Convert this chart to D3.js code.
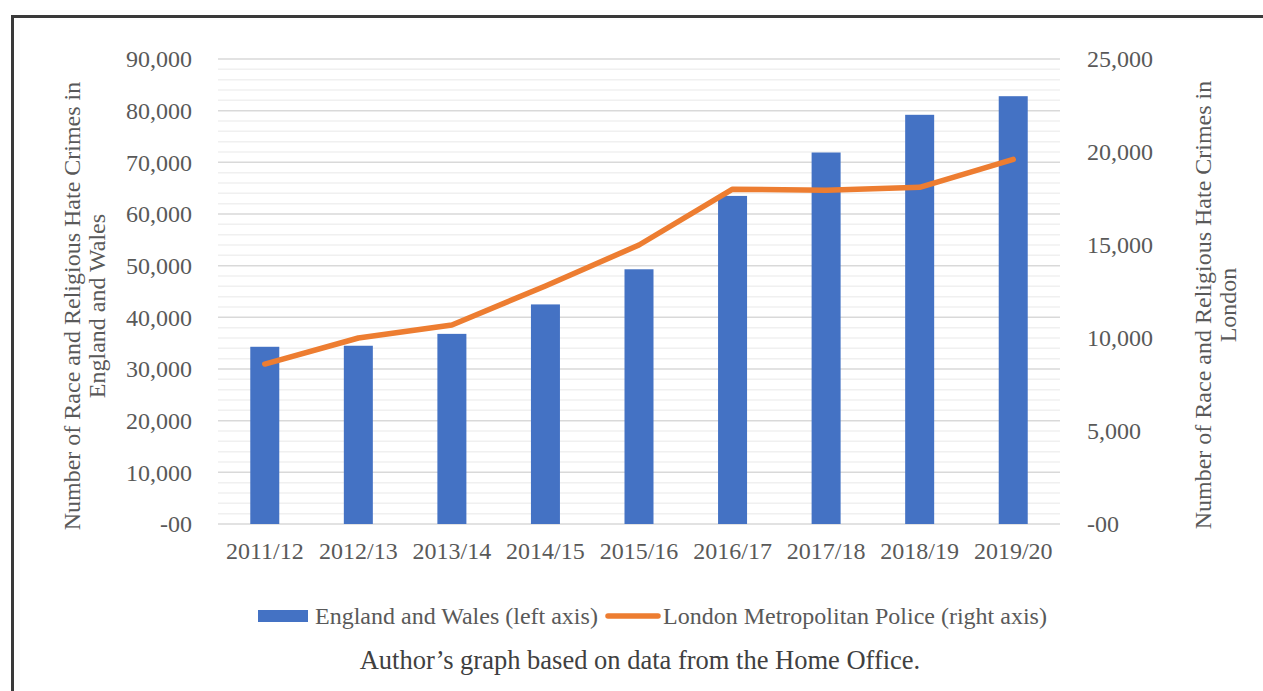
<!DOCTYPE html>
<html lang="en">
<head>
  <meta charset="UTF-8" />
  <title>Race and Religious Hate Crimes</title>
  <script src="https://d3js.org/d3.v7.min.js"></script>
  <style>
    body {
      margin: 0;
      padding: 0;
      background: #fff;
    }
    svg text {
      font-family: "Liberation Serif", "Times New Roman", serif;
    }
  </style>
</head>
<body>
  <div id="chart"></div>

  <script>
    // data
    const years = ["2011/12", "2012/13", "2013/14", "2014/15", "2015/16",
                   "2016/17", "2017/18", "2018/19", "2019/20"];
    const englandWales = [34300, 34500, 36800, 42500, 49300, 63500, 71900, 79200, 82800];
    const londonMet = [8600, 10000, 10700, 12800, 15000, 18000, 17950, 18100, 19600];
    const leftTicks = [0, 10000, 20000, 30000, 40000, 50000, 60000, 70000, 80000, 90000];
    const rightTicks = [0, 5000, 10000, 15000, 20000, 25000];

    const width = 1263;
    const height = 691;
    const margin = { top: 59, right: 203, bottom: 167, left: 218 };
    const plotW = width - margin.left - margin.right;
    const plotH = height - margin.top - margin.bottom;

    const blue = "#4472c4";
    const orange = "#ed7d31";
    const labelColor = "#595959";
    const fontSize = "24px";

    const svg = d3.select("#chart")
      .append("svg")
      .attr("width", width)
      .attr("height", height);

    // frame (top and left edges only)
    svg.append("path")
      .attr("d", `M12.5,${height} V16.5 H${width}`)
      .attr("fill", "none")
      .attr("stroke", "#3a3a3a")
      .attr("stroke-width", 3);

    const g = svg.append("g")
      .attr("transform", `translate(${margin.left},${margin.top})`);

    const x = d3.scaleBand()
      .domain(years)
      .range([0, plotW])
      .paddingInner(0.69)
      .paddingOuter(0.345);

    const xPoint = d => x(d) + x.bandwidth() / 2;

    const yLeft = d3.scaleLinear().domain([0, 90000]).range([plotH, 0]);
    const yRight = d3.scaleLinear().domain([0, 25000]).range([plotH, 0]);

    const fmt = d => d === 0 ? "-00" : d3.format(",")(d);

    // minor gridlines every 2,000
    g.append("g")
      .selectAll("line")
      .data(d3.range(0, 90001, 2000).filter(v => v % 10000 !== 0))
      .join("line")
      .attr("x1", 0)
      .attr("x2", plotW)
      .attr("y1", d => yLeft(d))
      .attr("y2", d => yLeft(d))
      .attr("stroke", "#f0f0f0")
      .attr("stroke-width", 1.5);

    // major gridlines
    g.append("g")
      .selectAll("line")
      .data(leftTicks)
      .join("line")
      .attr("x1", 0)
      .attr("x2", plotW)
      .attr("y1", d => yLeft(d))
      .attr("y2", d => yLeft(d))
      .attr("stroke", "#d9d9d9")
      .attr("stroke-width", 1.5);

    // bars
    g.append("g")
      .selectAll("rect")
      .data(englandWales)
      .join("rect")
      .attr("x", (d, i) => x(years[i]))
      .attr("y", d => yLeft(d))
      .attr("width", x.bandwidth())
      .attr("height", d => plotH - yLeft(d))
      .attr("fill", blue);

    // line
    const line = d3.line()
      .x((d, i) => xPoint(years[i]))
      .y(d => yRight(d));

    g.append("path")
      .datum(londonMet)
      .attr("d", line)
      .attr("fill", "none")
      .attr("stroke", orange)
      .attr("stroke-width", 5.5)
      .attr("stroke-linecap", "round")
      .attr("stroke-linejoin", "round");

    // left axis
    const leftAxis = g.append("g")
      .call(d3.axisLeft(yLeft).tickValues(leftTicks).tickFormat(fmt).tickSize(0).tickPadding(26));
    leftAxis.select(".domain").remove();

    // right axis
    const rightAxis = g.append("g")
      .attr("transform", `translate(${plotW},0)`)
      .call(d3.axisRight(yRight).tickValues(rightTicks).tickFormat(fmt).tickSize(0).tickPadding(27));
    rightAxis.select(".domain").remove();

    // x axis
    const xAxis = g.append("g")
      .attr("transform", `translate(0,${plotH})`)
      .call(d3.axisBottom(x).tickSize(0).tickPadding(18));
    xAxis.select(".domain").remove();

    g.selectAll(".tick text")
      .attr("fill", labelColor)
      .style("font-size", fontSize)
      .style("font-family", "'Liberation Serif', 'Times New Roman', serif");

    // axis titles
    function rotatedTitle(cx, cy, lines, angle) {
      const t = svg.append("text")
        .attr("transform", `translate(${cx},${cy}) rotate(${angle})`)
        .attr("text-anchor", "middle")
        .attr("fill", labelColor)
        .style("font-size", fontSize);
      lines.forEach((s, i) => {
        t.append("tspan")
          .attr("x", 0)
          .attr("dy", i === 0 ? 0 : 25)
          .text(s);
      });
    }

    rotatedTitle(80, 306, ["Number of Race and Religious Hate Crimes in", "England and Wales"], -90);
    rotatedTitle(1211, 305, ["Number of Race and Religious Hate Crimes in", "London"], -90);

    // legend
    const legend = svg.append("g").attr("transform", "translate(0,616)");
    legend.append("rect")
      .attr("x", 258).attr("y", -6)
      .attr("width", 50).attr("height", 12)
      .attr("fill", blue);
    legend.append("text")
      .attr("x", 315).attr("y", 0).attr("dy", "0.35em")
      .attr("fill", labelColor)
      .style("font-size", fontSize)
      .text("England and Wales (left axis)");
    legend.append("line")
      .attr("x1", 608).attr("x2", 658)
      .attr("y1", 0).attr("y2", 0)
      .attr("stroke", orange)
      .attr("stroke-width", 5.5)
      .attr("stroke-linecap", "round");
    legend.append("text")
      .attr("x", 663).attr("y", 0).attr("dy", "0.35em")
      .attr("fill", labelColor)
      .style("font-size", fontSize)
      .text("London Metropolitan Police (right axis)");

    // caption
    svg.append("text")
      .attr("x", 640).attr("y", 660).attr("dy", "0.35em")
      .attr("text-anchor", "middle")
      .attr("fill", "#404040")
      .style("font-size", "26.5px")
      .text("Author’s graph based on data from the Home Office.");
  </script>
</body>
</html>
